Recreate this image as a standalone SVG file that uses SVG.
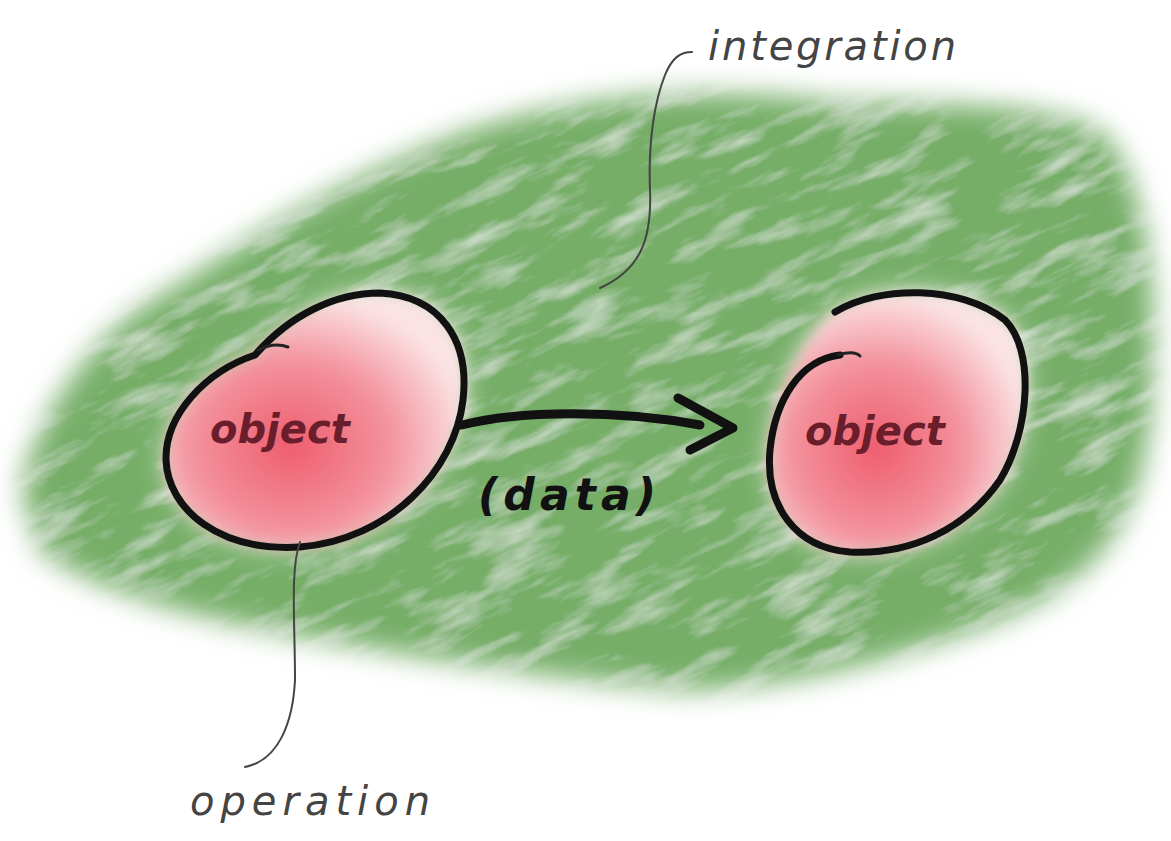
<svg xmlns="http://www.w3.org/2000/svg" width="1171" height="841" viewBox="0 0 1171 841">
<defs>
<filter id="blur" x="-20%" y="-20%" width="140%" height="140%"><feGaussianBlur stdDeviation="14"/></filter>
<filter id="blur6" x="-20%" y="-20%" width="140%" height="140%"><feGaussianBlur stdDeviation="7"/></filter>
<filter id="texture" x="-20%" y="-20%" width="140%" height="140%">
<feTurbulence type="fractalNoise" baseFrequency="0.012 0.05" numOctaves="4" seed="7" result="n"/>
<feColorMatrix in="n" type="matrix" values="0 0 0 0 1  0 0 0 0 1  0 0 0 0 1  0 0 0 -2.6 1.35" result="w"/>
<feComponentTransfer in="w" result="w2"><feFuncA type="linear" slope="0.45"/></feComponentTransfer>
<feComposite in="w2" in2="SourceGraphic" operator="in" result="wm"/>
<feMerge><feMergeNode in="SourceGraphic"/><feMergeNode in="wm"/></feMerge>
</filter>
<radialGradient id="pink" cx="0.42" cy="0.6" r="0.6">
<stop offset="0" stop-color="#ef5d6e"/>
<stop offset="0.55" stop-color="#f3929c"/>
<stop offset="1" stop-color="#fbe3e5"/>
</radialGradient>
<style>
.ring{fill:none;stroke:#111;stroke-width:7;stroke-linecap:round;stroke-linejoin:round}
.lead{fill:none;stroke:#444;stroke-width:2;stroke-linecap:round}
.hand{font-family:"DejaVu Sans","Liberation Sans",sans-serif;font-style:italic}
.obj{fill:#6a1e2c;font-size:40px;font-weight:bold}
.lbl{fill:#444;font-size:40px;font-weight:300}
</style>
</defs>
<g id="background">
<rect width="1171" height="841" fill="#ffffff"/>
<g filter="url(#texture)" transform="rotate(-25 585 400)">
<path d="M22,490 C30,430 90,330 170,290 C260,230 360,170 470,130 C580,95 700,85 820,100 C930,105 1040,100 1100,130 C1150,180 1160,300 1150,420 C1140,520 1100,580 1000,620 C900,660 780,690 680,690 C560,680 440,660 320,640 C200,620 90,590 40,550 Z" transform="rotate(25 585 400)" fill="#76ae68" filter="url(#blur)"/>
</g>
</g>
<g id="node-left">
<path d="M255,355 C290,315 335,293 380,293 C440,296 470,340 463,400 C455,470 390,540 300,547 C220,552 168,510 166,460 C165,415 205,372 255,355 Z" fill="#ffffff" opacity="0.8" filter="url(#blur)"/>
<path d="M255,355 C290,315 335,293 380,293 C440,296 470,340 463,400 C455,470 390,540 300,547 C220,552 168,510 166,460 C165,415 205,372 255,355 Z" fill="url(#pink)" filter="url(#blur6)"/>
<path class="ring" d="M255,355 C290,315 335,293 380,293 C440,296 470,340 463,400 C455,470 390,540 300,547 C220,552 168,510 166,460 C165,415 205,372 255,355"/>
<path d="M258,350 C270,344 280,344 288,347" fill="none" stroke="#222" stroke-width="3" stroke-linecap="round"/>
<text class="hand obj" x="210" y="443">object</text>
</g>
<g id="node-right">
<path d="M835,312 C880,285 960,285 1005,320 C1035,350 1030,430 1000,480 C965,530 910,555 850,552 C795,548 765,505 770,450 C775,400 800,340 835,312 Z" fill="#ffffff" opacity="0.8" filter="url(#blur)"/>
<path d="M835,312 C880,285 960,285 1005,320 C1035,350 1030,430 1000,480 C965,530 910,555 850,552 C795,548 765,505 770,450 C775,400 800,340 835,312 Z" fill="url(#pink)" filter="url(#blur6)"/>
<path class="ring" d="M835,312 C880,285 960,285 1005,320 C1035,350 1030,430 1000,480 C965,530 910,555 850,552 C795,548 765,505 770,450 C775,400 800,360 840,355"/>
<path d="M838,355 C848,352 856,352 860,356" fill="none" stroke="#222" stroke-width="3" stroke-linecap="round"/>
<text class="hand obj" x="805" y="445">object</text>
</g>
<g id="connectors">
<path d="M462,425 C520,410 620,410 700,425" fill="none" stroke="#111" stroke-width="9" stroke-linecap="round"/>
<path d="M678,398 L733,428 L690,450" fill="none" stroke="#111" stroke-width="9" stroke-linecap="round" stroke-linejoin="round"/>
<path class="lead" d="M600,288 C640,270 652,240 650,190 C648,140 655,100 665,75 C672,58 680,52 692,52"/>
<path class="lead" d="M300,542 C290,570 295,620 295,680 C293,720 280,760 245,767"/>
</g>
<g id="labels">
<text class="hand" x="478" y="510" font-size="44" fill="#111" font-weight="bold" textLength="178">(data)</text>
<text class="hand lbl" x="708" y="60" textLength="248">integration</text>
<text class="hand lbl" x="190" y="815" textLength="240">operation</text>
</g>
</svg>
